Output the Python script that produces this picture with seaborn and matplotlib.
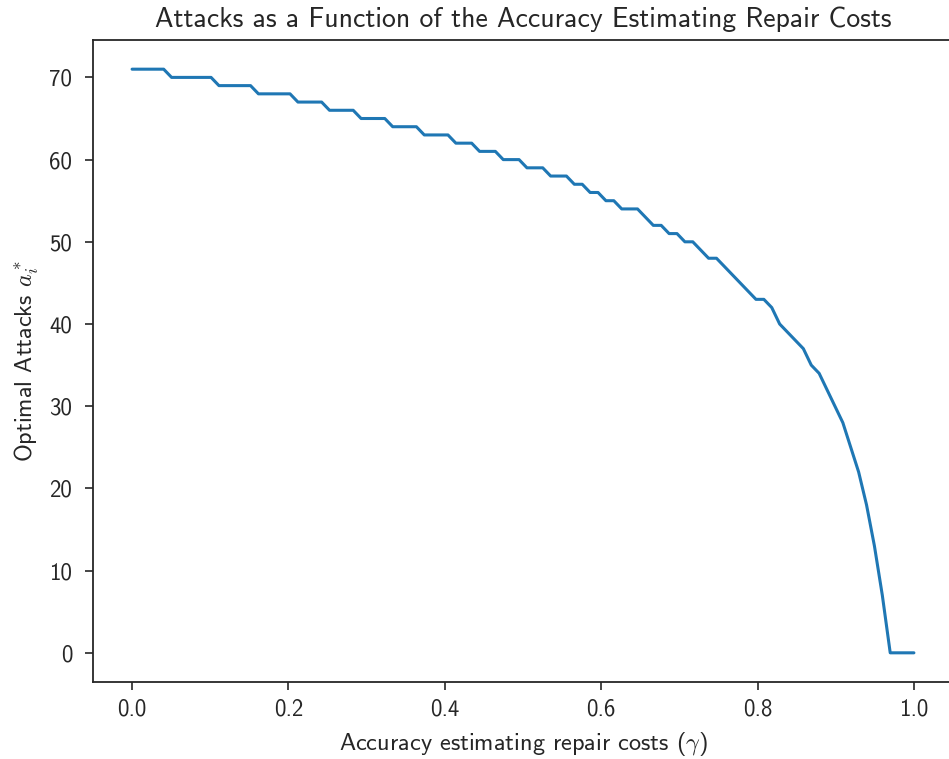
import numpy as np
import pandas as pd
import matplotlib
matplotlib.use("Agg")
import matplotlib.pyplot as plt
import seaborn as sns

# gamma grid (100 evenly spaced values between 0 and 1)
gamma = np.linspace(0.0, 1.0, 100)
attacks = [
    71, 71, 71, 71, 71,
    70, 70, 70, 70, 70, 70,
    69, 69, 69, 69, 69,
    68, 68, 68, 68, 68,
    67, 67, 67, 67,
    66, 66, 66, 66,
    65, 65, 65, 65,
    64, 64, 64, 64,
    63, 63, 63, 63,
    62, 62, 62,
    61, 61, 61,
    60, 60, 60,
    59, 59, 59,
    58, 58, 58,
    57, 57,
    56, 56,
    55, 55,
    54, 54, 54,
    53,
    52, 52,
    51, 51,
    50, 50,
    49,
    48, 48,
    47, 46, 45, 44,
    43, 43,
    42, 40, 39, 38, 37,
    35, 34, 32, 30, 28,
    25, 22, 18, 13, 7,
    0, 0, 0, 0,
]
x_ticks = [0.0, 0.2, 0.4, 0.6, 0.8, 1.0]
y_ticks = [0, 10, 20, 30, 40, 50, 60, 70]

title = "Attacks as a Function of the Accuracy Estimating Repair Costs"
xlabel = r"Accuracy estimating repair costs ($\gamma$)"
ylabel = r"Optimal Attacks $a_i^*$"

df = pd.DataFrame({"gamma": gamma, "attacks": attacks})

sns.set_theme(style="ticks")
plt.rcParams["font.family"] = ["cmss10", "DejaVu Sans"]
plt.rcParams["mathtext.fontset"] = "cm"
plt.rcParams["axes.formatter.use_mathtext"] = True

W, H = 949, 759
fig = plt.figure(figsize=(W / 100, H / 100), dpi=100)
ax = fig.add_axes([93 / W, (H - 682) / H, (953 - 93) / W, (682 - 40) / H])

sns.lineplot(data=df, x="gamma", y="attacks", ax=ax, color="#1f77b4", linewidth=2.2)

ax.set_xticks(x_ticks)
ax.set_yticks(y_ticks)
ax.set_xticklabels([f"{t:.1f}" for t in x_ticks])
ax.set_yticklabels([str(t) for t in y_ticks])
ax.tick_params(axis="both", labelsize=16.5, length=6, width=1.2, colors="#262626", labelcolor="#262626")
ax.tick_params(axis="x", pad=6)
ax.tick_params(axis="y", pad=9)
ax.set_title(title, fontsize=20, color="#262626", pad=9)
ax.set_xlabel(xlabel, fontsize=17.5, color="#262626", labelpad=7)
ax.set_ylabel(ylabel, fontsize=17.5, color="#262626", labelpad=6)
for s in ax.spines.values():
    s.set_linewidth(1.3)
    s.set_color("#262626")

fig.savefig("out.png", dpi=100)
